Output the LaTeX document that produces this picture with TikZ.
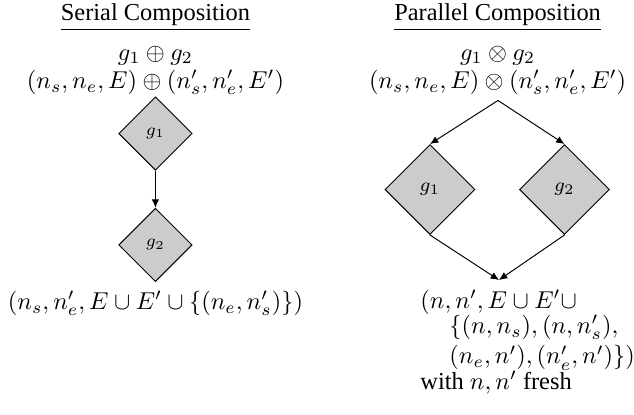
\documentclass[tikz,border=0pt]{standalone}
\usepackage[no-math]{fontspec}
\setmainfont{Liberation Serif}
\usepackage{amsmath}
\usetikzlibrary{arrows.meta, shapes.geometric}
\definecolor{gFill}{HTML}{CCCCCC}

\begin{document}
\begin{tikzpicture}[every node/.style={inner sep=0pt},
  gbox/.style={diamond, aspect=1, draw=black, line width=0.4pt, fill=gFill,
               inner sep=0pt, minimum size=#1},
  flow/.style={-{Latex[length=3.4pt, width=3pt]}, line width=0.4pt}]
  \useasboundingbox (0,0) rectangle (9.136,-5.966);
  % serial composition
  \node[anchor=base] (shead) at (2.24,-0.3) {\underline{Serial Composition}};
  \node[anchor=base] (sop) at (2.24,-0.865) {$g_1 \oplus g_2$};
  \node[anchor=base] (stuple) at (2.24,-1.28) {$(n_s, n_e, E) \oplus (n'_s, n'_e, E')$};
  \node[gbox=1.058cm, font=\scriptsize] (sg1) at (2.24,-1.924) {$g_1$};
  \node[gbox=1.058cm, font=\scriptsize] (sg2) at (2.24,-3.53) {$g_2$};
  \draw[flow] (sg1.south) -- (sg2.north);
  \node[anchor=base] (sres) at (2.24,-4.46) {$(n_s, n'_e, E \cup E' \cup \{(n_e, n'_s)\})$};
  % parallel composition
  \node[anchor=base] (phead) at (7.17,-0.3) {\underline{Parallel Composition}};
  \node[anchor=base] (pop) at (7.17,-0.865) {$g_1 \otimes g_2$};
  \node[anchor=base] (ptuple) at (7.17,-1.28) {$(n_s, n_e, E) \otimes (n'_s, n'_e, E')$};
  \coordinate (fork) at (7.176,-1.448);
  \coordinate (join) at (7.19,-4.035);
  \node[gbox=1.297cm, font=\footnotesize] (pg1) at (6.196,-2.731) {$g_1$};
  \node[gbox=1.297cm, font=\footnotesize] (pg2) at (8.134,-2.731) {$g_2$};
  \draw[flow] (fork) -- (pg1.north);
  \draw[flow] (fork) -- (pg2.north);
  \draw[flow] (pg1.south) -- (join);
  \draw[flow] (pg2.south) -- (join);
  \node[anchor=base west] (pres1) at (6.052,-4.45) {$(n, n', E \cup E' \cup$};
  \node[anchor=base west] (pres2) at (6.47,-4.805) {$\{(n, n_s), (n, n'_s),$};
  \node[anchor=base west] (pres3) at (6.47,-5.245) {$(n_e, n'), (n'_e, n')\})$};
  \node[anchor=base west] (pres4) at (6.052,-5.615) {with $n, n'$ fresh};
\end{tikzpicture}
\end{document}
